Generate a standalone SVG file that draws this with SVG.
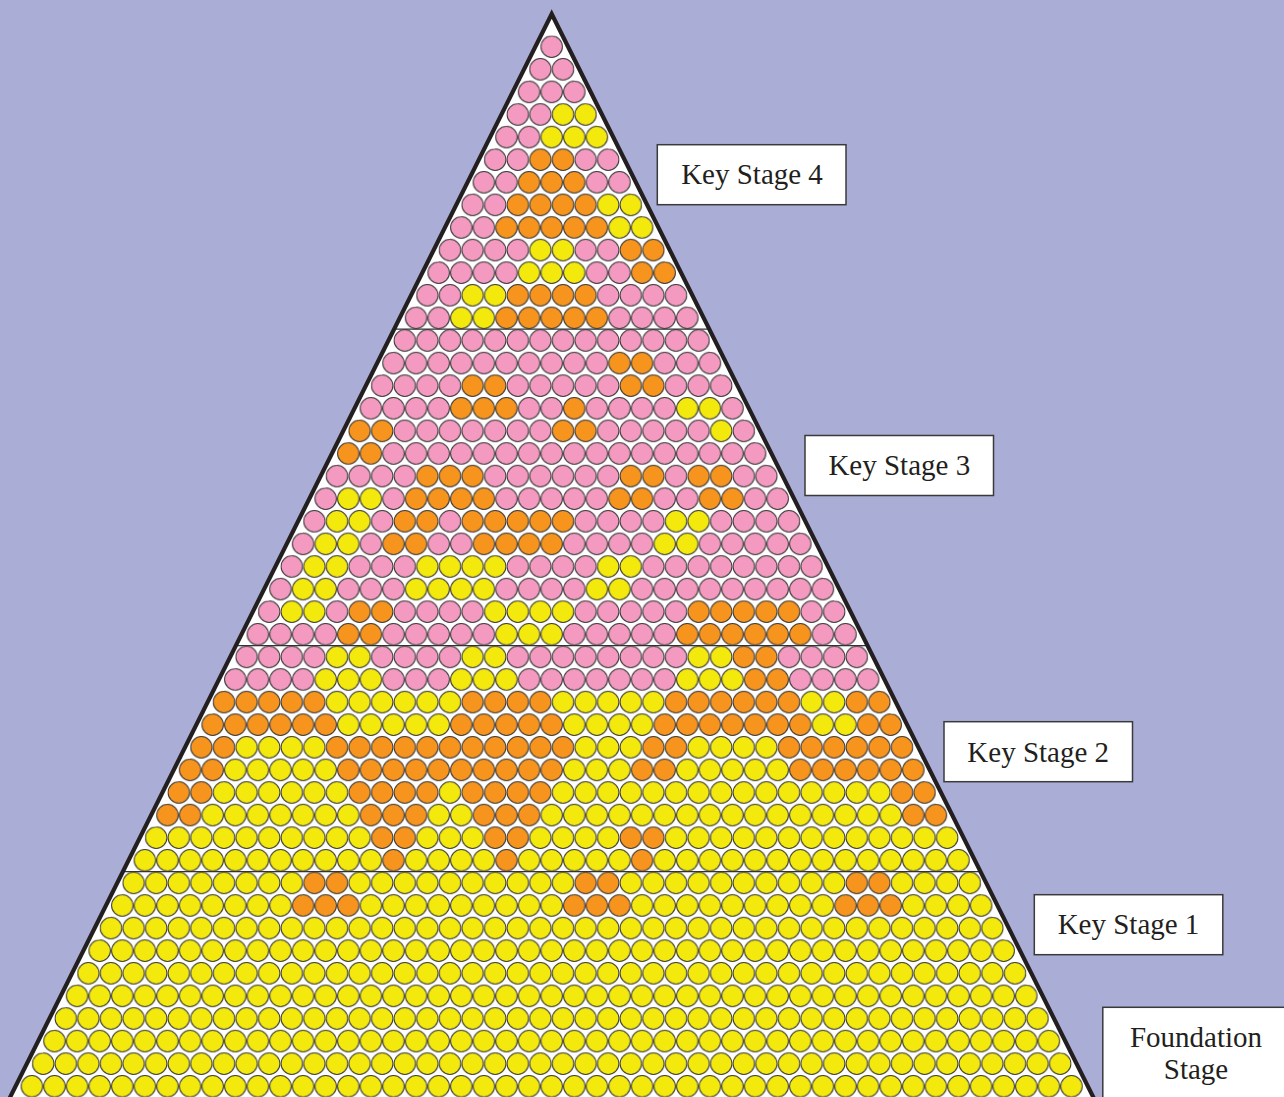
<svg xmlns="http://www.w3.org/2000/svg" width="1284" height="1097" viewBox="0 0 1284 1097">
<defs>
<style>
.lbl{fill:#ffffff;stroke:#3a3a3a;stroke-width:1.5}
.t{font-family:"Liberation Serif","Times New Roman",serif;font-size:29px;fill:#231f20;text-anchor:middle}
.div{stroke:#333333;stroke-width:1.3;fill:none}
.cs{stroke:#3a3a3a;stroke-width:0.9}
</style>
<pattern id="pk" patternUnits="userSpaceOnUse" width="20" height="40">
<g class="cs" fill="#f49ac1"><circle cx="10" cy="10" r="9.5"/><circle cx="0" cy="30" r="9.5"/><circle cx="20" cy="30" r="9.5"/></g>
</pattern>
<pattern id="yl" patternUnits="userSpaceOnUse" width="20" height="40">
<g class="cs" fill="#f4e90c"><circle cx="10" cy="10" r="9.5"/><circle cx="0" cy="30" r="9.5"/><circle cx="20" cy="30" r="9.5"/></g>
</pattern>
<pattern id="or" patternUnits="userSpaceOnUse" width="20" height="40">
<g class="cs" fill="#f7941d"><circle cx="10" cy="10" r="9.5"/><circle cx="0" cy="30" r="9.5"/><circle cx="20" cy="30" r="9.5"/></g>
</pattern>
</defs>
<rect id="background" x="0" y="0" width="1284" height="1097" fill="#aaadd6"/>
<g id="pyramid">
<path d="M551.7 14 L-3.8 1125 L1107.2 1125 Z" fill="#ffffff"/>
<g id="circles" transform="translate(540.4 35.4) scale(1.13)">
<path fill="url(#pk)" d="M0 0h20v20h-20zM-10 20h40v20h-40zM-20 40h60v20h-60zM-30 60h40v20h-40zM-40 80h40v20h-40zM-50 100h40v20h-40zM30 100h40v20h-40zM-60 120h40v20h-40zM40 120h40v20h-40zM-70 140h40v20h-40zM-80 160h40v20h-40zM-90 180h80v20h-80zM30 180h40v20h-40zM-100 200h80v20h-80zM40 200h40v20h-40zM-110 220h40v20h-40zM50 220h80v20h-80zM-120 240h40v20h-40zM60 240h80v20h-80zM-130 260h280v20h-280zM-140 280h200v20h-200zM100 280h60v20h-60zM-150 300h80v20h-80zM-30 300h100v20h-100zM110 300h60v20h-60zM-160 320h80v20h-80zM-20 320h40v20h-40zM40 320h80v20h-80zM160 320h20v20h-20zM-130 340h140v20h-140zM50 340h100v20h-100zM170 340h20v20h-20zM-140 360h340v20h-340zM-190 380h80v20h-80zM-50 380h120v20h-120zM110 380h20v20h-20zM170 380h40v20h-40zM-200 400h20v20h-20zM-140 400h20v20h-20zM-40 400h100v20h-100zM100 400h40v20h-40zM180 400h40v20h-40zM-210 420h20v20h-20zM-150 420h20v20h-20zM-90 420h20v20h-20zM30 420h80v20h-80zM150 420h80v20h-80zM-220 440h20v20h-20zM-160 440h20v20h-20zM-100 440h40v20h-40zM20 440h80v20h-80zM140 440h100v20h-100zM-230 460h20v20h-20zM-170 460h60v20h-60zM-30 460h80v20h-80zM90 460h160v20h-160zM-240 480h20v20h-20zM-180 480h60v20h-60zM-40 480h80v20h-80zM80 480h180v20h-180zM-250 500h20v20h-20zM-190 500h20v20h-20zM-130 500h80v20h-80zM30 500h100v20h-100zM230 500h40v20h-40zM-260 520h80v20h-80zM-140 520h100v20h-100zM20 520h100v20h-100zM240 520h40v20h-40zM-270 540h80v20h-80zM-150 540h80v20h-80zM-30 540h160v20h-160zM210 540h80v20h-80zM-280 560h80v20h-80zM-140 560h60v20h-60zM-20 560h140v20h-140zM220 560h80v20h-80z"/>
<path fill="url(#yl)" d="M10 60h40v20h-40zM0 80h60v20h-60zM50 140h40v20h-40zM60 160h40v20h-40zM-10 180h40v20h-40zM-20 200h60v20h-60zM-70 220h40v20h-40zM-80 240h40v20h-40zM120 320h40v20h-40zM150 340h20v20h-20zM-180 400h40v20h-40zM-190 420h40v20h-40zM110 420h40v20h-40zM-200 440h40v20h-40zM100 440h40v20h-40zM-210 460h40v20h-40zM-110 460h80v20h-80zM50 460h40v20h-40zM-220 480h40v20h-40zM-120 480h80v20h-80zM40 480h40v20h-40zM-230 500h40v20h-40zM-50 500h80v20h-80zM-40 520h60v20h-60zM-190 540h40v20h-40zM-70 540h40v20h-40zM130 540h40v20h-40zM-200 560h60v20h-60zM-80 560h60v20h-60zM120 560h60v20h-60zM-190 580h120v20h-120zM10 580h100v20h-100zM230 580h40v20h-40zM-180 600h100v20h-100zM20 600h80v20h-80zM240 600h40v20h-40zM-270 620h80v20h-80zM30 620h60v20h-60zM130 620h80v20h-80zM-280 640h100v20h-100zM20 640h60v20h-60zM120 640h100v20h-100zM-290 660h120v20h-120zM-90 660h20v20h-20zM10 660h300v20h-300zM-300 680h140v20h-140zM-100 680h40v20h-40zM0 680h320v20h-320zM-350 700h200v20h-200zM-110 700h60v20h-60zM-10 700h80v20h-80zM110 700h260v20h-260zM-360 720h220v20h-220zM-120 720h80v20h-80zM-20 720h100v20h-100zM100 720h280v20h-280zM-370 740h160v20h-160zM-170 740h200v20h-200zM70 740h200v20h-200zM310 740h80v20h-80zM-380 760h160v20h-160zM-160 760h180v20h-180zM80 760h180v20h-180zM320 760h80v20h-80zM-390 780h800v20h-800zM-400 800h820v20h-820zM-410 820h840v20h-840zM-420 840h860v20h-860zM-430 860h880v20h-880zM-440 880h900v20h-900zM-450 900h920v20h-920zM-460 920h940v20h-940z"/>
<path fill="url(#or)" d="M-10 100h40v20h-40zM-20 120h60v20h-60zM-30 140h80v20h-80zM-40 160h100v20h-100zM70 180h40v20h-40zM80 200h40v20h-40zM-30 220h80v20h-80zM-40 240h100v20h-100zM60 280h40v20h-40zM-70 300h40v20h-40zM70 300h40v20h-40zM-80 320h60v20h-60zM20 320h20v20h-20zM-170 340h40v20h-40zM10 340h40v20h-40zM-180 360h40v20h-40zM-110 380h60v20h-60zM70 380h40v20h-40zM130 380h40v20h-40zM-120 400h80v20h-80zM60 400h40v20h-40zM140 400h40v20h-40zM-130 420h40v20h-40zM-70 420h100v20h-100zM-140 440h40v20h-40zM-60 440h80v20h-80zM-170 500h40v20h-40zM130 500h100v20h-100zM-180 520h40v20h-40zM120 520h120v20h-120zM170 540h40v20h-40zM180 560h40v20h-40zM-290 580h100v20h-100zM-70 580h80v20h-80zM110 580h120v20h-120zM270 580h40v20h-40zM-300 600h120v20h-120zM-80 600h100v20h-100zM100 600h140v20h-140zM280 600h40v20h-40zM-310 620h40v20h-40zM-190 620h220v20h-220zM90 620h40v20h-40zM210 620h120v20h-120zM-320 640h40v20h-40zM-180 640h200v20h-200zM80 640h40v20h-40zM220 640h120v20h-120zM-330 660h40v20h-40zM-170 660h80v20h-80zM-70 660h80v20h-80zM310 660h40v20h-40zM-340 680h40v20h-40zM-160 680h60v20h-60zM-60 680h60v20h-60zM320 680h40v20h-40zM-150 700h40v20h-40zM-50 700h40v20h-40zM70 700h40v20h-40zM-140 720h20v20h-20zM-40 720h20v20h-20zM80 720h20v20h-20zM-210 740h40v20h-40zM30 740h40v20h-40zM270 740h40v20h-40zM-220 760h60v20h-60zM20 760h60v20h-60zM260 760h60v20h-60z"/>
</g>
<g id="dividers">
<line class="div" x1="394.1" y1="329.2" x2="709.3" y2="329.2"/>
<line class="div" x1="235.9" y1="645.6" x2="867.5" y2="645.6"/>
<line class="div" x1="122.9" y1="871.6" x2="980.5" y2="871.6"/>
</g>
<path id="outline" d="M551.7 14 L-3.8 1125 L1107.2 1125 Z" fill="none" stroke="#231f20" stroke-width="4.2" stroke-linejoin="miter"/>
</g>
<g id="ks4"><rect class="lbl" x="657.3" y="144.7" width="188.7" height="60"/><text class="t" x="752" y="184">Key Stage 4</text></g>
<g id="ks3"><rect class="lbl" x="805" y="435.5" width="188.5" height="60"/><text class="t" x="899.3" y="475">Key Stage 3</text></g>
<g id="ks2"><rect class="lbl" x="944" y="721.7" width="188.5" height="60"/><text class="t" x="1038.2" y="761.5">Key Stage 2</text></g>
<g id="ks1"><rect class="lbl" x="1034.3" y="894.7" width="188.5" height="60"/><text class="t" x="1128.5" y="934">Key Stage 1</text></g>
<g id="foundation"><rect class="lbl" x="1102.8" y="1007.3" width="200" height="120"/><text class="t" x="1196" y="1047">Foundation</text><text class="t" x="1196" y="1079">Stage</text></g>
</svg>
